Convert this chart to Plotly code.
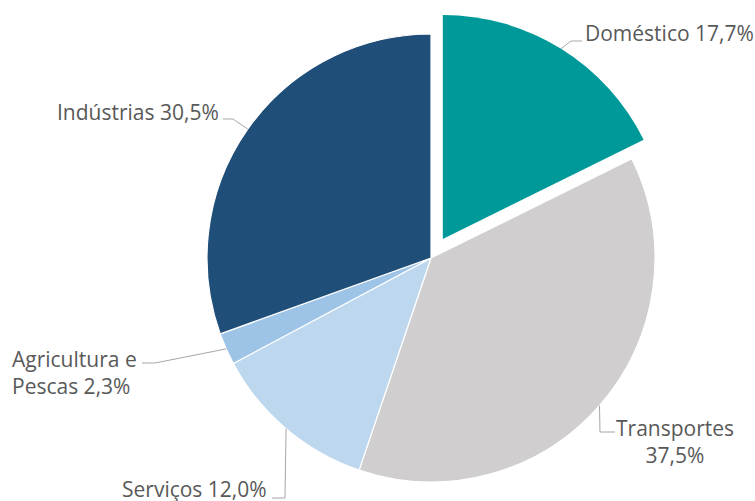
import math
import plotly.graph_objects as go

# ---- data ----
categories = ["Doméstico", "Transportes", "Serviços", "Agricultura e Pescas", "Indústrias"]
values = [17.7, 37.5, 12.0, 2.3, 30.5]
label_texts = ["Doméstico 17,7%", "Transportes<br>37,5%", "Serviços 12,0%",
               "Agricultura e<br>Pescas 2,3%", "Indústrias 30,5%"]
colors = ["#009999", "#D0CECE", "#BDD7EE", "#9DC3E6", "#1F4E79"]
pulls = [0.1, 0, 0, 0, 0]

# ---- layout geometry (pixels) ----
W, H = 755, 501
CX, CY, R = 431, 258, 224

def px2paper(x, y):
    return x / W, 1 - y / H

def domain_for(cx, cy, r):
    x0, y1 = px2paper(cx - r, cy - r)
    x1, y0 = px2paper(cx + r, cy + r)
    return dict(x=[x0, x1], y=[y0, y1])

# label placement (pixels)
label_pos = [
    dict(x=583, y=33, xanchor="left", align="left", elbow=(571, 41), end=(582, 41)),
    dict(x=675, y=441, xanchor="center", align="center", elbow=(600, 432), end=(615, 432)),
    dict(x=269, y=489, xanchor="right", align="right", elbow=(285, 498), end=(272, 498)),
    dict(x=10, y=372, xanchor="left", align="left", elbow=(155, 363), end=(142, 363)),
    dict(x=221, y=112, xanchor="right", align="right", elbow=(233, 119), end=(223, 119)),
]

total = sum(values)
fig = go.Figure()

# main pie: non-pulled slices (pulled ones transparent)
main_colors = [c if p == 0 else "rgba(0,0,0,0)" for c, p in zip(colors, pulls)]
main_lw = [1.2 if p == 0 else 0 for p in pulls]
fig.add_trace(go.Pie(
    labels=categories, values=values, sort=False, direction="clockwise", rotation=0,
    textinfo="none", hoverinfo="label+percent",
    marker=dict(colors=main_colors, line=dict(color="white", width=main_lw)),
    domain=domain_for(CX, CY, R), showlegend=False,
))

# pulled slices: each drawn as its own pie shifted outward along its mid-angle
cum = 0.0
mids = []
for i, (v, p) in enumerate(zip(values, pulls)):
    mid = (cum + v / 2) / total * 2 * math.pi
    mids.append(mid)
    if p > 0:
        dx, dy = math.sin(mid) * R * p, -math.cos(mid) * R * p
        fig.add_trace(go.Pie(
            labels=[categories[i], ""], values=[v, total - v], sort=False,
            direction="clockwise", rotation=cum / total * 360,
            textinfo="none", hoverinfo="skip",
            marker=dict(colors=[colors[i], "rgba(0,0,0,0)"], line=dict(color="white", width=0)),
            domain=domain_for(CX + dx, CY + dy, R), showlegend=False,
        ))
    cum += v

annotations = []
shapes = []
for v, txt, pos, p, mid in zip(values, label_texts, label_pos, pulls, mids):
    sx, sy = math.sin(mid), -math.cos(mid)
    ax, ay = CX + sx * R * (1 + p), CY + sy * R * (1 + p)
    pts = [(ax, ay), pos["elbow"], pos["end"]]
    path = "M " + " L ".join(f"{px2paper(x, y)[0]:.5f},{px2paper(x, y)[1]:.5f}" for x, y in pts)
    shapes.append(dict(type="path", xref="paper", yref="paper", path=path,
                       line=dict(color="#A6A6A6", width=1)))
    tx, ty = px2paper(pos["x"], pos["y"])
    annotations.append(dict(x=tx, y=ty, xref="paper", yref="paper", text=txt,
                            showarrow=False, xanchor=pos["xanchor"], yanchor="middle",
                            align=pos["align"],
                            font=dict(family="Open Sans", size=21, color="#595959")))

fig.update_layout(
    width=W, height=H, margin=dict(l=0, r=0, t=0, b=0),
    paper_bgcolor="white", plot_bgcolor="white",
    annotations=annotations, shapes=shapes,
)
fig.write_html("out.html", config={"displayModeBar": False},
               post_script="document.body.style.margin='0';")
